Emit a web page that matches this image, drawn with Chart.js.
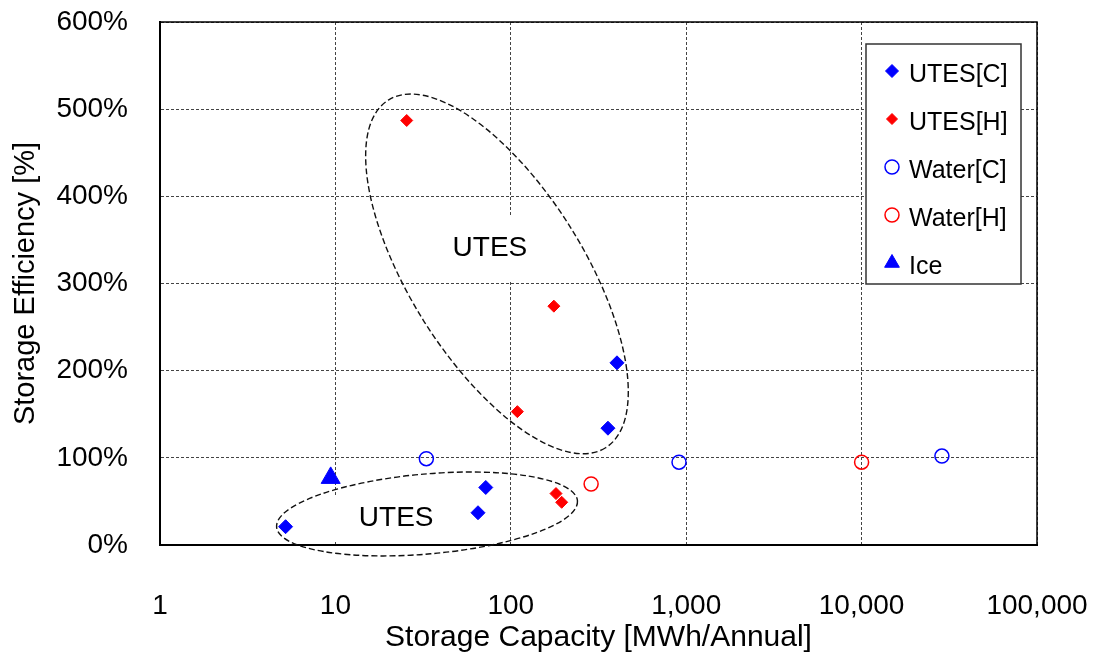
<!DOCTYPE html>
<html>
<head>
<meta charset="utf-8">
<script src="https://cdn.jsdelivr.net/npm/chart.js@4.4.1/dist/chart.umd.min.js"></script>
<style>
  html, body { margin: 0; padding: 0; background: #fff; }
  #wrap { width: 1096px; height: 652px; }
</style>
</head>
<body>
<div id="wrap"><canvas id="chart" width="1096" height="652"></canvas></div>
<script>
// values
const xTicks = [1, 10, 100, 1000, 10000, 100000];
const yTicks = [0, 100, 200, 300, 400, 500, 600];

const utesCCap = [5.2, 65, 72, 358, 403];
const utesCEff = [21, 37, 66, 134, 209];

const utesHCap = [25.5, 109, 176, 181, 195];
const utesHEff = [487, 153, 274, 59, 49];

const waterCCap = [33, 910, 28700];
const waterCEff = [99, 95, 102];

const waterHCap = [287, 10000];
const waterHEff = [70, 95];

const iceCap = [9.4];
const iceEff = [77];

const FONT = "'Liberation Sans', Arial, sans-serif";

function pts(xs, ys) {
    return xs.map((x, i) => ({ x: x, y: ys[i] }));
}

// dashed ellipses + "UTES" labels (centre given in data units)
const groups = [
    { label: 'UTES', cx: 83.4, cy: 311, a: 205, b: 87, rot: 58, tx: 76, ty: 340, boxW: 120, boxH: 66 },
    { label: 'UTES', cx: 33.3, cy: 35.6, a: 151, b: 40, rot: -5, tx: 22.2, ty: 31, boxW: 132, boxH: 45 }
];

const groupPlugin = {
    id: 'groups',
    beforeDatasetsDraw(chart) {
        const ctx = chart.ctx;
        const xs = chart.scales.x, ys = chart.scales.y;
        ctx.save();
        // white boxes behind the labels hide the grid
        groups.forEach(g => {
            const tx = xs.getPixelForValue(g.tx), ty = ys.getPixelForValue(g.ty);
            ctx.fillStyle = '#fff';
            ctx.fillRect(tx - g.boxW / 2, ty - g.boxH / 2, g.boxW, g.boxH);
        });
        // top and right frame lines
        const ca = chart.chartArea;
        ctx.strokeStyle = '#000';
        ctx.lineWidth = 1.5;
        ctx.beginPath();
        ctx.moveTo(ca.left, ca.top);
        ctx.lineTo(ca.right, ca.top);
        ctx.lineTo(ca.right, ca.bottom);
        ctx.stroke();
        // ellipses
        ctx.setLineDash([6, 3]);
        ctx.lineWidth = 1.4;
        ctx.strokeStyle = '#111';
        groups.forEach(g => {
            const cx = xs.getPixelForValue(g.cx), cy = ys.getPixelForValue(g.cy);
            ctx.beginPath();
            ctx.ellipse(cx, cy, g.a, g.b, g.rot * Math.PI / 180, 0, Math.PI * 2);
            ctx.stroke();
        });
        ctx.setLineDash([]);
        ctx.fillStyle = '#000';
        ctx.font = '28px ' + FONT;
        ctx.textAlign = 'center';
        ctx.textBaseline = 'middle';
        groups.forEach(g => {
            ctx.fillText(g.label, xs.getPixelForValue(g.tx), ys.getPixelForValue(g.ty));
        });
        ctx.restore();
    }
};

// legend box inside the plot, top right
const legendPlugin = {
    id: 'boxLegend',
    afterDatasetsDraw(chart) {
        const ctx = chart.ctx;
        const ca = chart.chartArea;
        const w = 155, h = 240;
        const left = ca.right - 171, top = ca.top + 22;
        ctx.save();
        ctx.fillStyle = '#fff';
        ctx.fillRect(left, top, w, h);
        ctx.strokeStyle = '#333';
        ctx.lineWidth = 1.5;
        ctx.strokeRect(left, top, w, h);
        ctx.font = '25px ' + FONT;
        ctx.textBaseline = 'middle';
        ctx.textAlign = 'left';
        const legSizes = [6.5, 5.5, 7, 7, 8.5];
        chart.data.datasets.forEach((ds, i) => {
            const my = top + 27 + i * 48;
            const mx = left + 26;
            ctx.fillStyle = ds.backgroundColor;
            ctx.strokeStyle = ds.borderColor;
            ctx.lineWidth = ds.borderWidth;
            Chart.helpers.drawPoint(ctx, {
                pointStyle: ds.pointStyle, radius: legSizes[i],
                borderWidth: ds.borderWidth, rotation: 0
            }, mx, my);
            ctx.fillStyle = '#000';
            ctx.fillText(ds.label, left + 43, my + 4);
        });
        ctx.restore();
    }
};

new Chart(document.getElementById('chart'), {
    type: 'scatter',
    data: {
        datasets: [
            { label: 'UTES[C]', data: pts(utesCCap, utesCEff), pointStyle: 'rectRot', pointRadius: 7,
              backgroundColor: '#0000ff', borderColor: '#0000ff', borderWidth: 1 },
            { label: 'UTES[H]', data: pts(utesHCap, utesHEff), pointStyle: 'rectRot', pointRadius: 6,
              backgroundColor: '#ff0000', borderColor: '#ff0000', borderWidth: 1 },
            { label: 'Water[C]', data: pts(waterCCap, waterCEff), pointStyle: 'circle', pointRadius: 7,
              backgroundColor: 'rgba(0,0,0,0)', borderColor: '#0000ff', borderWidth: 1.5 },
            { label: 'Water[H]', data: pts(waterHCap, waterHEff), pointStyle: 'circle', pointRadius: 7,
              backgroundColor: 'rgba(0,0,0,0)', borderColor: '#ff0000', borderWidth: 1.5 },
            { label: 'Ice', data: pts(iceCap, iceEff), pointStyle: 'triangle', pointRadius: 11,
              backgroundColor: '#0000ff', borderColor: '#0000ff', borderWidth: 1 }
        ]
    },
    options: {
        responsive: false,
        animation: false,
        layout: { padding: { top: 22, right: 59, left: 0, bottom: 0 } },
        plugins: { legend: { display: false }, tooltip: { enabled: false } },
        scales: {
            x: {
                type: 'logarithmic',
                min: 1,
                max: 100000,
                afterBuildTicks: s => { s.ticks = xTicks.map(v => ({ value: v, major: true })); },
                afterFit: s => { s.height = 107; s.paddingLeft = 0; s.paddingRight = 0; },
                grid: { color: '#444', lineWidth: 1, drawTicks: false },
                border: { display: true, color: '#000', width: 2, dash: [3, 2] },
                ticks: {
                    color: '#000', padding: 44, maxRotation: 0, autoSkip: false,
                    font: { family: FONT, size: 28 },
                    callback: v => Number(v).toLocaleString('en-US')
                },
                title: {
                    display: true, text: 'Storage Capacity [MWh/Annual]', color: '#000',
                    font: { family: FONT, size: 30, lineHeight: 0.95 }, padding: { top: 0, bottom: 0 }
                }
            },
            y: {
                min: 0,
                max: 600,
                afterBuildTicks: s => { s.ticks = yTicks.map(v => ({ value: v })); },
                afterFit: s => { s.width = 160; s.paddingTop = 0; s.paddingBottom = 0; },
                grid: { color: '#444', lineWidth: 1, drawTicks: false },
                border: { display: true, color: '#000', width: 2, dash: [3, 2] },
                ticks: {
                    color: '#000', padding: 32,
                    font: { family: FONT, size: 28 },
                    callback: v => v + '%'
                },
                title: {
                    display: true, text: 'Storage Efficiency [%]', color: '#000',
                    font: { family: FONT, size: 29 }, padding: { top: 9, bottom: 0 }
                }
            }
        }
    },
    plugins: [groupPlugin, legendPlugin]
});
</script>
</body>
</html>
